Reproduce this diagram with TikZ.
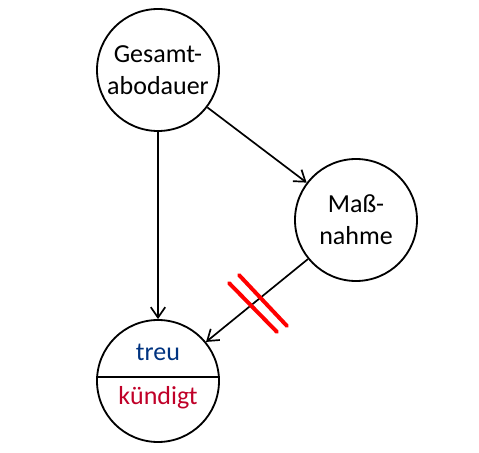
\documentclass[tikz,border=0pt]{standalone}
\usepackage{fontspec}
\setmainfont{Carlito}
\usetikzlibrary{arrows.meta}
\definecolor{treublau}{RGB}{0,51,128}
\definecolor{kuendrot}{RGB}{192,0,40}
\begin{document}
\begin{tikzpicture}
        [>={Straight Barb[length=2.6mm,width=3.6mm]},
         knoten/.style={circle, draw, line width=1.3pt, minimum size=3.05cm, inner sep=0pt,
                        align=center, font=\fontsize{18.5}{22.7}\selectfont},
         beschr/.style={font=\fontsize{18.5}{22.7}\selectfont},
         pfeil/.style={->, line width=1.2pt},
         strich/.style={line width=2.8pt, red, line cap=round}]
            \useasboundingbox (0,0) rectangle (11.975,-11.325);
            %knoten
            \node[knoten] (abo) at (3.95,-1.75) {Gesamt-\\abodauer};
            \node[knoten] (mass) at (8.9,-5.5) {Maß-\\nahme};
            \node[knoten] (kunde) at (3.95,-9.525) {};
            %trennlinie im unteren knoten
            \draw[line width=1.3pt] ([yshift=0.1cm]kunde.west) -- ([yshift=0.1cm]kunde.east);
            \node[beschr, text=treublau] (treu) at (3.95,-8.8) {treu};
            \node[beschr, text=kuendrot] (kuend) at (3.95,-9.95) {kündigt};
            %pfeile
            \draw[pfeil] (abo) -- (kunde);
            \draw[pfeil] (abo) -- (mass);
            \draw[pfeil] (mass) -- (kunde);
            %unterbrechung
            \draw[strich] (5.725,-7.075) -- (6.925,-8.3);
            \draw[strich] (5.975,-6.875) -- (7.175,-8.15);
    \end{tikzpicture}
\end{document}
